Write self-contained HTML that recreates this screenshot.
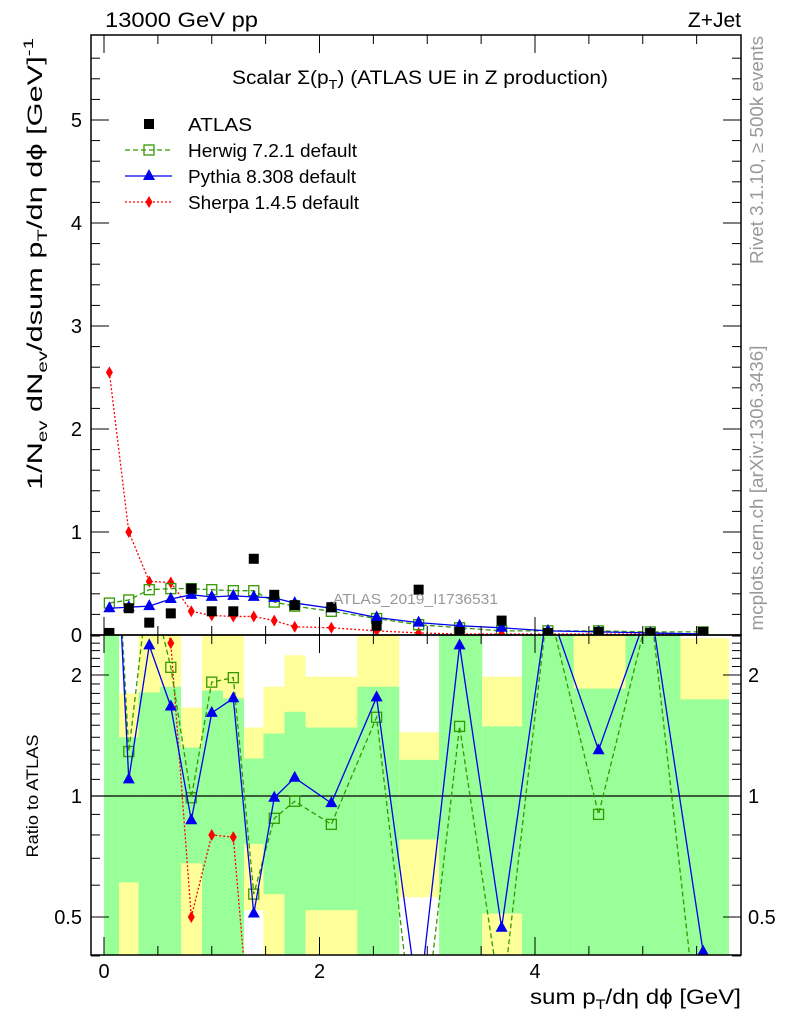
<!DOCTYPE html>
<html><head><meta charset="utf-8"><style>
html,body{margin:0;background:#fff;overflow:hidden;width:786px;height:1024px}
svg{display:block;font-family:"Liberation Sans",sans-serif}
</style></head><body>
<svg id="chart" width="786" height="1024" viewBox="0 0 786 1024">
<defs>
<clipPath id="cm"><rect x="91" y="35" width="650" height="600"/></clipPath>
<clipPath id="cr"><rect x="91" y="635" width="650" height="320"/></clipPath>
</defs>
<g id="bands" clip-path="url(#cr)"></g>
<g id="ratio" clip-path="url(#cr)"></g>
<g id="main" clip-path="url(#cm)"></g>
<g id="axes"></g>
<text x="105" y="27" font-size="21" textLength="153" lengthAdjust="spacingAndGlyphs">13000 GeV pp</text>
<text x="741" y="27" font-size="21" text-anchor="end">Z+Jet</text>
<text x="232" y="84" font-size="19" textLength="376" lengthAdjust="spacingAndGlyphs">Scalar Σ(p<tspan font-size="13" dy="5">T</tspan><tspan dy="-5">)</tspan> (ATLAS UE in Z production)</text>
<text x="333" y="604" font-size="15" fill="#999" textLength="165" lengthAdjust="spacingAndGlyphs">ATLAS_2019_I1736531</text>
<text transform="translate(763,150) rotate(-90)" font-size="18" fill="#999" text-anchor="middle" textLength="228" lengthAdjust="spacingAndGlyphs">Rivet 3.1.10, ≥ 500k events</text>
<text transform="translate(763,488) rotate(-90)" font-size="18" fill="#999" text-anchor="middle" textLength="285" lengthAdjust="spacingAndGlyphs">mcplots.cern.ch [arXiv:1306.3436]</text>
<text transform="translate(42,490) rotate(-90)" font-size="21" textLength="452" lengthAdjust="spacingAndGlyphs">1/N<tspan font-size="14" dy="5">ev</tspan><tspan dy="-5"> dN</tspan><tspan font-size="14" dy="5">ev</tspan><tspan dy="-5">/dsum p</tspan><tspan font-size="14" dy="5">T</tspan><tspan dy="-5">/dη dϕ  [GeV]</tspan><tspan font-size="14" dy="-9">-1</tspan></text>
<text transform="translate(38,796) rotate(-90)" font-size="17" text-anchor="middle" textLength="123" lengthAdjust="spacingAndGlyphs">Ratio to ATLAS</text>
<text x="530" y="1004" font-size="21" textLength="211" lengthAdjust="spacingAndGlyphs">sum p<tspan font-size="14" dy="5">T</tspan><tspan dy="-5">/dη dϕ [GeV]</tspan></text>
<g id="legend"></g>
</svg>
<script>
const xs=[0.05,0.23,0.42,0.62,0.81,1.0,1.2,1.39,1.58,1.77,2.11,2.53,2.92,3.3,3.69,4.12,4.59,5.07,5.56];
const atlas=[0.02,0.26,0.12,0.21,0.45,0.23,0.23,0.74,0.39,0.29,0.27,0.09,0.44,0.03,0.14,0.02,0.03,0.02,0.03];
const herwig=[0.31,0.34,0.44,0.45,0.45,0.44,0.43,0.43,0.32,0.28,0.23,0.16,0.10,0.07,0.04,0.04,0.04,0.03,0.03];
const pythia=[0.26,0.27,0.28,0.35,0.39,0.37,0.38,0.37,0.36,0.31,0.26,0.17,0.12,0.09,0.07,0.04,0.03,0.02,0.01];
const sherpa=[2.55,1.0,0.52,0.51,0.23,0.19,0.18,0.18,0.14,0.08,0.07,0.04,0.02,0.01,0.01,0.01,0.01,0.01,0.01];
const rHerwig=[10,1.29,3.5,2.09,0.99,1.92,1.97,0.57,0.88,0.97,0.85,1.57,0.2,1.49,0.3,3,0.90,3,0.2];
const rPythia=[10,1.10,2.37,1.67,0.87,1.61,1.75,0.51,0.99,1.11,0.96,1.76,0.3,2.37,0.47,3,1.30,3,0.41];
const rSherpa=[10,4,4,2.4,0.50,0.80,0.79,0.2,0.1,0.1,0.1,0.1,0.1,0.1,0.1,0.1,0.1,0.1,0.1];
const edges=[0,0.14,0.32,0.52,0.715,0.91,1.105,1.3,1.48,1.675,1.87,2.35,2.74,3.11,3.51,3.88,4.36,4.84,5.35,5.8];
const greenHi=[10,1.40,1.81,1.87,1.32,1.83,1.75,1.24,1.43,1.62,1.48,1.87,1.23,10,1.49,10,1.85,10,1.74];
const greenLo=[0.1,0.61,0.1,0.1,0.68,0.1,0.1,0.76,0.57,0.1,0.52,0.1,0.78,0.1,0.51,0.1,0.1,0.1,0.1];
const yellowHi=[10,1.80,10,10,1.66,10,10,1.48,1.87,2.24,1.98,10,1.44,10,1.98,10,10,10,2.47];
const yellowLo=[0.1,0.1,0.1,0.1,0.1,0.1,0.1,0.52,0.1,0.1,0.1,0.1,0.56,0.1,0.1,0.1,0.1,0.1,0.1];
const mainTicks=[0,1,2,3,4,5];
const xTicks=[0,2,4];
const ratioTicks=[0.5,1,2];

const NS='http://www.w3.org/2000/svg';
const X=v=>104+v*107.75;
const Y=v=>635-v*103;
const R=v=>796-121*Math.log2(v);
function mk(p,tag,at){const e=document.createElementNS(NS,tag);for(const k in at)e.setAttribute(k,at[k]);p.appendChild(e);return e;}
const bands=document.getElementById('bands'),ratio=document.getElementById('ratio'),main=document.getElementById('main'),axes=document.getElementById('axes'),legend=document.getElementById('legend');

for(let i=0;i<greenHi.length;i++){
  const x0=X(edges[i]),w=X(edges[i+1])-x0;
  let e=mk(bands,'rect',{x:x0,y:R(yellowHi[i]),width:w,height:R(yellowLo[i])-R(yellowHi[i]),fill:'#ffff99'});
  
  
  e=mk(bands,'rect',{x:x0,y:R(greenHi[i]),width:w,height:R(greenLo[i])-R(greenHi[i]),fill:'#99ff99'});
  
  
}
mk(ratio,'line',{x1:91,x2:741,y1:R(1),y2:R(1),stroke:'#000','stroke-width':1.3});

function marker(g,type,x,y,col){
  let e;
  if(type==='sq') e=mk(g,'rect',{x:x-5,y:y-5,width:10,height:10,fill:'#000'});
  else if(type==='osq') e=mk(g,'rect',{x:x-5,y:y-5,width:10,height:10,fill:'none',stroke:col,'stroke-width':1.3});
  else if(type==='tri') e=mk(g,'polygon',{points:`${x},${y-7} ${x-6},${y+4} ${x+6},${y+4}`,fill:col});
  else e=mk(g,'polygon',{points:`${x},${y-6} ${x-3.5},${y} ${x},${y+6} ${x+3.5},${y}`,fill:col});
  return e;
}
function series(g,vals,yf,col,dash,type,name){
  const pts=vals.map((v,i)=>X(xs[i])+','+yf(v)).join(' ');
  const l=mk(g,'polyline',{points:pts,fill:'none',stroke:col,'stroke-width':1.3,'stroke-dasharray':dash});
  
  
  vals.forEach((v,i)=>{const m=marker(g,type,X(xs[i]),yf(v),col);
    
    });
}
series(main,sherpa,Y,'#f00','2,2','dia','sherpa');
series(main,herwig,Y,'#339900','5,3','osq','herwig');
series(main,pythia,Y,'#0000ee','','tri','pythia');
atlas.forEach((v,i)=>{const m=marker(main,'sq',X(xs[i]),Y(v));
  
  });
const Rc=v=>R(Math.min(Math.max(v,0.05),20));
series(ratio,rSherpa,Rc,'#f00','2,2','dia','sherpa-ratio');
series(ratio,rHerwig,Rc,'#339900','5,3','osq','herwig-ratio');
series(ratio,rPythia,Rc,'#0000ee','','tri','pythia-ratio');

mk(axes,'rect',{x:91,y:35,width:650,height:600,fill:'none',stroke:'#000','stroke-width':1.5});
mk(axes,'rect',{x:91,y:635,width:650,height:320,fill:'none',stroke:'#000','stroke-width':1.5});
for(let v=0;v<=5.8;v+=0.2){const y=Y(v);const maj=Math.abs(v-Math.round(v))<1e-6;const L=maj?18:9;
  mk(axes,'line',{x1:91,x2:91+L,y1:y,y2:y,stroke:'#000'});mk(axes,'line',{x1:741-L,x2:741,y1:y,y2:y,stroke:'#000'});}
mainTicks.forEach(v=>{const t=mk(axes,'text',{x:82,y:Y(v)+7,'font-size':20,'text-anchor':'end'});t.textContent=v;
  
  });
for(let v=0;v<=5.8;v+=0.5){const x=X(v);const maj=Math.abs(v/2-Math.round(v/2))<1e-6;const L=maj?18:9;
  [[35,1],[635,-1],[635,1],[955,-1]].forEach(([y,s])=>mk(axes,'line',{x1:x,x2:x,y1:y,y2:y+s*L,stroke:'#000'}));}
xTicks.forEach(v=>{const t=mk(axes,'text',{x:X(v),y:978,'font-size':20,'text-anchor':'middle'});t.textContent=v;
  
  });
[0.4,0.5,0.6,0.7,0.8,0.9,1,1.1,1.2,1.3,1.4,1.5,1.6,1.7,1.8,1.9,2,2.1,2.2,2.3,2.4,2.5].forEach(v=>{const y=R(v);
  const maj=ratioTicks.includes(v);const L=maj?18:9;
  mk(axes,'line',{x1:91,x2:91+L,y1:y,y2:y,stroke:'#000'});mk(axes,'line',{x1:741-L,x2:741,y1:y,y2:y,stroke:'#000'});});
ratioTicks.forEach(v=>{[[82,'end'],[748,'start']].forEach(([x,a])=>{const t=mk(axes,'text',{x:x,y:R(v)+7,'font-size':20,'text-anchor':a});t.textContent=v;
  
  });});
const leg=[['ATLAS','sq','#000',null],['Herwig 7.2.1 default','osq','#339900','5,3'],['Pythia 8.308 default','tri','#0000ee',''],['Sherpa 1.4.5 default','dia','#f00','2,2']];
const legW=[64,169,168,171];
leg.forEach((l,i)=>{const y=124+i*26;
  if(l[3]!==null) mk(legend,'line',{x1:125,x2:172,y1:y,y2:y,stroke:l[2],'stroke-width':1.3,'stroke-dasharray':l[3]});
  marker(legend,l[1],149,y,l[2]);
  const t=mk(legend,'text',{x:188,y:y+7,'font-size':18,textLength:legW[i],lengthAdjust:'spacingAndGlyphs'});t.textContent=l[0];
  
  });
</script>
</body></html>
